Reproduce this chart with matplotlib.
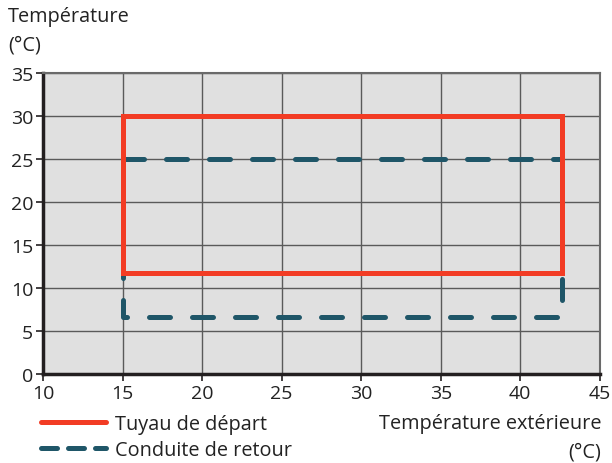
import matplotlib
matplotlib.use("Agg")
import matplotlib.pyplot as plt
from matplotlib.lines import Line2D

plt.rcParams['font.family'] = ['Open Sans', 'DejaVu Sans']

# Operating envelope (outdoor temperature vs. water temperature)
supply_x = [15, 42.6, 42.6, 15, 15]
supply_y = [30, 30, 11.7, 11.7, 30]
return_x = [15, 42.6, 42.6, 15, 15]
return_y = [25, 25, 6.6, 6.6, 25]
x_ticks = [10, 15, 20, 25, 30, 35, 40, 45]
y_ticks = [0, 5, 10, 15, 20, 25, 30, 35]
labels = ["Tuyau de départ", "Conduite de retour"]

RED = "#f23c24"
BLUE = "#1f5668"
TXT = "#222222"
FS = 14.3

fig = plt.figure(figsize=(6.12, 4.64), dpi=100)
ax = fig.add_axes([0.0703, 0.1918, 0.9097, 0.6487])
ax.set_facecolor("#e0e0e0")
ax.set_xlim(10, 45)
ax.set_ylim(0, 35)
ax.set_xticks(x_ticks)
ax.set_yticks(y_ticks)
ax.grid(True, color="#5a5a5a", linewidth=1.0)
ax.set_axisbelow(True)

ax.plot(return_x, return_y, color=BLUE, linewidth=3.6, dashes=(4.2, 4.4),
        dash_capstyle="round", solid_joinstyle="miter", zorder=3)
ax.plot(supply_x, supply_y, color=RED, linewidth=3.6,
        solid_joinstyle="miter", zorder=4)

for s in ("left", "bottom"):
    ax.spines[s].set_linewidth(2.5)
    ax.spines[s].set_color("#231f20")
for s in ("right", "top"):
    ax.spines[s].set_linewidth(1.5)
    ax.spines[s].set_color("#6a6a6a")

ax.tick_params(axis="both", direction="out", length=5, width=1.2,
               color="#231f20", labelsize=14, labelcolor=TXT, pad=2)

fig.text(0.013, 0.963, "Température", fontsize=FS, color=TXT, va="center", ha="left")
fig.text(0.013, 0.903, "(°C)", fontsize=FS, color=TXT, va="center", ha="left")
fig.text(0.983, 0.086, "Température extérieure", fontsize=FS, color=TXT, va="center", ha="right")
fig.text(0.983, 0.024, "(°C)", fontsize=FS, color=TXT, va="center", ha="right")

handles = [
    Line2D([0], [0], color=RED, linewidth=3.6, solid_capstyle="round"),
    Line2D([0], [0], color=BLUE, linewidth=3.6, dashes=(3.2, 2.2), dash_capstyle="round"),
]
fig.legend(handles, labels, loc="lower left", bbox_to_anchor=(0.045, -0.024),
           frameon=False, fontsize=FS, handlelength=3.25, handletextpad=0.45,
           labelspacing=0.3, borderpad=0.2, labelcolor=TXT)

fig.savefig("out.png", dpi=100)
